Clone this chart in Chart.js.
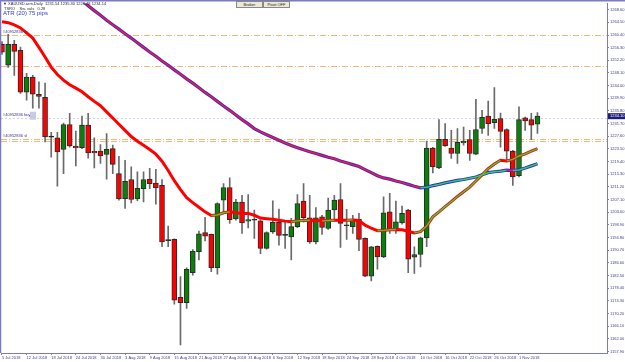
<!DOCTYPE html>
<html>
<head>
<meta charset="utf-8">
<script src="https://cdn.jsdelivr.net/npm/chart.js@4.4.1/dist/chart.umd.min.js"></script>
<style>
  html, body { margin: 0; padding: 0; background: #fff; width: 625px; height: 362px; overflow: hidden; }
  #wrap { position: relative; width: 625px; height: 362px; }
  #chart { position: absolute; left: 0; top: 0; }
  .tiny { position: absolute; font: 8px "Liberation Sans", sans-serif; line-height: 8px; color: #2a2a3a;
          white-space: nowrap; transform: scale(0.5); transform-origin: 0 0; }
  #atr { position: absolute; left: 3px; top: 10px; font: 12px "Liberation Sans", sans-serif; line-height: 12px;
         color: #2c3ccc; white-space: nowrap; transform: scale(0.5); transform-origin: 0 0; }
  .btn { position: absolute; top: 1px; width: 50px; height: 10px; background: #ece9d8; border: 2px solid #8a8a84;
         font: 8px "Liberation Sans", sans-serif; line-height: 10px; text-align: center; color: #222;
         transform: scale(0.5); transform-origin: 0 0; }
</style>
</head>
<body>
<div id="wrap">
  <canvas id="chart" width="625" height="362"></canvas>
  <div class="tiny" style="left:3px;top:2px">▼ XAUUSD.arm,Daily&nbsp; 1231.54 1235.30 1228.48 1234.14</div>
  <div class="tiny" style="left:4px;top:6.5px">TSRO&nbsp;&nbsp;&nbsp; Sw. vals&nbsp;&nbsp; 0.28</div>
  <div id="atr">ATR (20) 75 pips</div>
  <div class="btn" style="left:236px">Broker</div>
  <div class="btn" style="left:263px">Pivot OFF</div>
</div>
<script>
// daily candles, 5 Jul 2018 .. 6 Nov 2018
const opens = [1257.4,1250.6,1257.4,1255.4,1241.9,1246.8,1241.2,1240.2,1227.3,1227.1,
  1223.3,1231.4,1224.4,1223.9,1231.2,1222.7,1222.8,1221.7,1223.6,1215.5,
  1207.4,1213.6,1207.3,1210.6,1213.7,1212.4,1211.7,1193.8,1194.2,1175.4,
  1173.7,1183.4,1190.2,1196.4,1195.8,1185.0,1206.9,1211.0,1200.8,1206.3,
  1200.1,1200.4,1200.2,1191.3,1196.6,1199.7,1195.5,1195.0,1198.3,1206.6,
  1201.2,1193.4,1201.5,1197.7,1203.7,1207.1,1198.6,1198.3,1200.7,1194.5,
  1182.3,1191.9,1188.5,1203.1,1197.5,1199.5,1203.7,1188.4,1189.3,1194.7,
  1223.8,1217.3,1226.6,1223.8,1222.0,1225.4,1226.5,1221.8,1230.1,1234.1,
  1232.0,1233.3,1229.8,1222.8,1214.8,1233.6,1233.0,1231.5];
const highs = [1258.3,1260.6,1258.7,1256.5,1248.0,1247.3,1245.2,1244.8,1228.9,1228.9,
  1231.9,1235.0,1229.3,1234.1,1235.0,1227.1,1224.9,1228.5,1224.7,1221.1,
  1219.8,1217.7,1216.1,1216.1,1217.2,1216.9,1213.6,1198.5,1194.4,1182.1,
  1185.0,1190.9,1196.9,1201.3,1195.9,1206.0,1212.3,1214.1,1207.2,1208.5,
  1208.7,1203.7,1200.6,1196.6,1206.7,1204.0,1199.9,1201.0,1208.7,1212.3,
  1208.5,1204.5,1202.0,1207.6,1208.5,1212.3,1203.9,1202.0,1202.6,1194.7,
  1191.9,1192.1,1208.0,1209.1,1206.6,1205.0,1203.9,1191.8,1194.9,1226.0,
  1224.0,1233.0,1231.7,1229.5,1230.1,1230.6,1229.5,1239.6,1236.0,1239.0,
  1243.4,1235.1,1230.0,1223.0,1237.1,1233.8,1235.0,1235.3];
const lows = [1254.1,1249.9,1247.3,1241.5,1239.3,1236.7,1236.7,1225.8,1220.8,1211.4,
  1215.5,1224.1,1218.0,1223.6,1220.5,1217.3,1218.8,1213.7,1215.5,1206.9,
  1204.2,1206.0,1206.7,1206.3,1210.6,1205.6,1191.8,1191.8,1173.2,1160.0,
  1171.8,1182.6,1187.5,1193.7,1183.7,1182.9,1203.1,1199.4,1200.4,1196.1,
  1197.9,1194.5,1189.6,1191.0,1196.1,1192.3,1191.3,1187.5,1198.0,1199.8,
  1192.9,1192.7,1195.8,1197.4,1200.2,1191.6,1194.2,1196.1,1190.5,1182.1,
  1180.7,1184.5,1188.3,1196.1,1196.1,1199.1,1183.4,1183.2,1185.3,1191.8,
  1215.7,1217.1,1224.3,1220.4,1218.8,1224.7,1219.8,1221.6,1228.5,1227.9,
  1230.1,1224.1,1219.3,1211.7,1214.4,1229.5,1226.5,1228.5];
const closes = [1254.8,1257.4,1255.1,1241.9,1246.8,1241.2,1240.5,1227.4,1227.3,1222.5,
  1231.4,1224.5,1223.8,1231.2,1222.2,1222.2,1221.2,1223.4,1218.5,1207.3,
  1213.0,1207.1,1210.7,1213.6,1212.2,1210.9,1193.4,1193.8,1174.5,1173.7,
  1184.5,1190.4,1196.0,1195.2,1185.0,1205.8,1211.0,1200.6,1206.3,1199.5,
  1200.6,1200.4,1191.3,1196.4,1199.7,1195.5,1195.5,1198.3,1205.8,1201.2,
  1193.4,1201.2,1198.1,1203.7,1206.9,1199.4,1198.6,1200.7,1194.2,1182.3,
  1191.8,1188.5,1202.8,1197.2,1199.9,1202.6,1187.8,1189.3,1194.7,1223.8,
  1217.7,1226.6,1224.5,1222.0,1225.6,1226.0,1222.0,1229.8,1233.7,1231.7,
  1233.1,1229.2,1222.8,1214.4,1233.0,1232.6,1231.2,1234.1];

// moving averages
const fastMA = [1264.7,1264.4,1263.7,1262.7,1261.1,1259.4,1256.4,1253.3,1250.0,1247.6,
  1245.8,1244.3,1243.2,1242.0,1240.4,1238.9,1237.5,1235.5,1233.5,1231.5,
  1229.5,1227.5,1226.0,1224.7,1223.3,1221.8,1219.5,1216.5,1213.2,1210.3,
  1207.7,1206.1,1204.6,1203.1,1201.9,1202.1,1202.8,1203.1,1202.8,1202.6,
  1202.6,1202.0,1201.1,1200.9,1200.7,1200.4,1200.1,1199.9,1200.2,1200.3,
  1200.4,1200.3,1200.2,1200.3,1200.4,1200.4,1200.4,1200.5,1200.3,1198.8,
  1197.8,1197.0,1197.1,1197.3,1197.4,1197.3,1196.8,1196.3,1196.7,1198.5,
  1201.5,1203.1,1204.8,1206.4,1208.1,1209.6,1211.1,1213.1,1215.1,1217.1,
  1218.6,1219.8,1219.6,1220.1,1221.2,1221.9,1222.8,1223.6];
const slowMA = [null,null,null,null,null,null,null,null,null,null,
  1276.3,1274.7,1273.1,1271.6,1269.9,1268.3,1266.8,1265.2,1263.7,1262.3,
  1260.8,1259.4,1257.9,1256.4,1254.9,1253.5,1252.0,1250.6,1249.1,1247.7,
  1246.2,1244.8,1243.3,1241.8,1240.4,1238.9,1237.4,1236.0,1234.5,1233.0,
  1231.6,1230.1,1229.0,1228.1,1227.2,1226.3,1225.4,1224.6,1223.9,1223.2,
  1222.6,1222.0,1221.4,1220.8,1220.3,1219.6,1219.0,1218.4,1217.8,1216.8,
  1215.8,1214.8,1214.1,1213.7,1213.1,1212.6,1212.0,1211.4,1210.9,1211.1,
  1211.6,1212.0,1212.5,1212.9,1213.3,1213.6,1214.0,1214.4,1215.1,1215.8,
  1216.1,1216.3,1216.6,1216.5,1216.7,1217.3,1218.0,1218.7];

// axis labels (one date every 4 bars)
const dateLabels = ['5 Jul 2018','12 Jul 2018','18 Jul 2018','24 Jul 2018','30 Jul 2018','3 Aug 2018',
  '9 Aug 2018','15 Aug 2018','21 Aug 2018','27 Aug 2018','31 Aug 2018','6 Sep 2018','12 Sep 2018',
  '18 Sep 2018','24 Sep 2018','28 Sep 2018','4 Oct 2018','10 Oct 2018','16 Oct 2018','22 Oct 2018',
  '26 Oct 2018','1 Nov 2018'];
const yTicks = [1268.6,1264.5,1260.4,1256.3,1252.2,1248.1,1244.0,1239.9,1235.8,1231.7,1227.6,1223.5,
  1219.4,1215.3,1211.2,1207.1,1203.0,1198.9,1194.8,1190.7,1186.6,1182.5,1178.4,1174.3,1170.2,
  1166.1,1162.0,1157.9];

// order levels
const levelLines = [1260.45, 1250.25, 1226.85, 1226.15];
const entryLevel = 1233.6;
const orderTags = [
  { price: 1260.45, text: '#40952836 tp' },
  { price: 1233.6, text: '#40952836 buy' },
  { price: 1226.85, text: '#40952836 sl' }
];

const idx = opens.map((_, i) => i);
const UP = '#3ccf3c';

const overlay = {
  id: 'overlay',
  beforeDatasetsDraw(chart) {
    const { ctx, chartArea: a, scales: { y } } = chart;
    ctx.save();
    ctx.lineWidth = 1;
    ctx.strokeStyle = '#f6b878';
    ctx.setLineDash([6, 2, 1, 2]);
    levelLines.forEach(p => {
      const py = Math.round(y.getPixelForValue(p)) + 0.5;
      ctx.beginPath(); ctx.moveTo(a.left, py); ctx.lineTo(a.right, py); ctx.stroke();
    });
    ctx.strokeStyle = '#d2d3f0';
    ctx.setLineDash([2, 2]);
    const ey = Math.round(y.getPixelForValue(entryLevel)) + 0.5;
    ctx.beginPath(); ctx.moveTo(a.left, ey); ctx.lineTo(a.right, ey); ctx.stroke();
    ctx.restore();
  },
  afterDraw(chart) {
    const { ctx, chartArea: a, scales: { y } } = chart;
    ctx.save();
    // frame top / left
    ctx.strokeStyle = '#7b79c2';
    ctx.lineWidth = 1.5;
    ctx.beginPath();
    ctx.moveTo(0, 0.75); ctx.lineTo(chart.width, 0.75);
    ctx.moveTo(0.5, 0); ctx.lineTo(0.5, a.bottom);
    ctx.stroke();
    // order tags
    ctx.font = '4px "Liberation Sans"';
    ctx.fillStyle = '#35358a';
    ctx.textBaseline = 'bottom';
    orderTags.forEach(t => ctx.fillText(t.text, 3, y.getPixelForValue(t.price) - 1));
    ctx.fillStyle = '#c9c9ec';
    ctx.fillRect(30, y.getPixelForValue(entryLevel) - 6, 6, 8);
    // last price tag
    const last = closes[closes.length - 1];
    const cy = y.getPixelForValue(last);
    ctx.fillStyle = '#1c1c7c';
    ctx.fillRect(608, cy - 3, 17, 6);
    ctx.fillStyle = '#fff';
    ctx.textBaseline = 'middle';
    ctx.fillText(last.toFixed(2), 610, cy);
    ctx.restore();
  }
};

const chart = new Chart(document.getElementById('chart').getContext('2d'), {
  type: 'bar',
  data: {
    datasets: [
      {
        type: 'line', order: 0,
        data: idx.map(i => ({ x: i, y: fastMA[i] })),
        borderWidth: 1.4, pointRadius: 0, tension: 0,
        segment: { borderColor: c => c.p1.parsed.y > c.p0.parsed.y ? UP : 'rgba(0,0,0,0)' }
      },
      {
        type: 'line', order: 0,
        data: idx.map(i => ({ x: i, y: slowMA[i] })),
        borderWidth: 1.5, pointRadius: 0, tension: 0,
        segment: { borderColor: c => c.p1.parsed.y > c.p0.parsed.y ? UP : '#ff1a1a' }
      },
      {
        type: 'line', order: 1,
        data: idx.map(i => ({ x: i, y: fastMA[i] })),
        borderColor: '#ff0000', borderWidth: 3, pointRadius: 0, tension: 0
      },
      {
        type: 'line', order: 1,
        data: idx.map(i => ({ x: i, y: slowMA[i] })),
        borderColor: '#2828ff', borderWidth: 3.2, pointRadius: 0, tension: 0
      },
      {
        order: 2, grouped: false,
        data: idx.map(i => ({ x: i, y: [opens[i], closes[i]] })),
        barThickness: 5, minBarLength: 1,
        backgroundColor: c => {
          const i = c.dataIndex;
          return closes[i] > opens[i] ? '#0a800a' : closes[i] < opens[i] ? '#ff0000' : '#111';
        },
        borderColor: '#2a2a2a', borderWidth: 1, borderSkipped: false
      },
      {
        order: 3, grouped: false,
        data: idx.map(i => ({ x: i, y: [lows[i], highs[i]] })),
        barThickness: 1, backgroundColor: '#6a6a6a'
      }
    ]
  },
  options: {
    responsive: false,
    animation: false,
    events: [],
    layout: { padding: { left: 1, top: 3, right: 0, bottom: 0 } },
    plugins: { legend: { display: false }, tooltip: { enabled: false } },
    scales: {
      x: {
        type: 'linear', min: -0.16, max: 98.3, offset: false,
        grid: { display: true, offset: false, drawOnChartArea: false, tickLength: 2, color: '#7b79c2' },
        border: { color: '#7b79c2', width: 1 },
        afterBuildTicks: s => { s.ticks = dateLabels.map((_, k) => ({ value: k * 4 })); },
        afterFit: s => { s.height = 9; },
        ticks: {
          autoSkip: false, maxRotation: 0, align: 'start', padding: 0,
          color: '#3f3f8f', font: { family: 'Liberation Sans', size: 4 },
          callback: (v, i) => dateLabels[i]
        }
      },
      y: {
        position: 'right', min: 1157.38, max: 1270.64, beginAtZero: false,
        grid: { display: true, drawOnChartArea: false, tickLength: 2, color: '#7b79c2' },
        border: { color: '#7b79c2', width: 1 },
        afterBuildTicks: s => { s.ticks = yTicks.map(v => ({ value: v })); },
        afterFit: s => { s.width = 18; },
        ticks: {
          autoSkip: false, padding: 1,
          color: '#3f3f8f', font: { family: 'Liberation Sans', size: 4 },
          callback: v => v.toFixed(2)
        }
      }
    }
  },
  plugins: [overlay]
});
</script>
</body>
</html>
